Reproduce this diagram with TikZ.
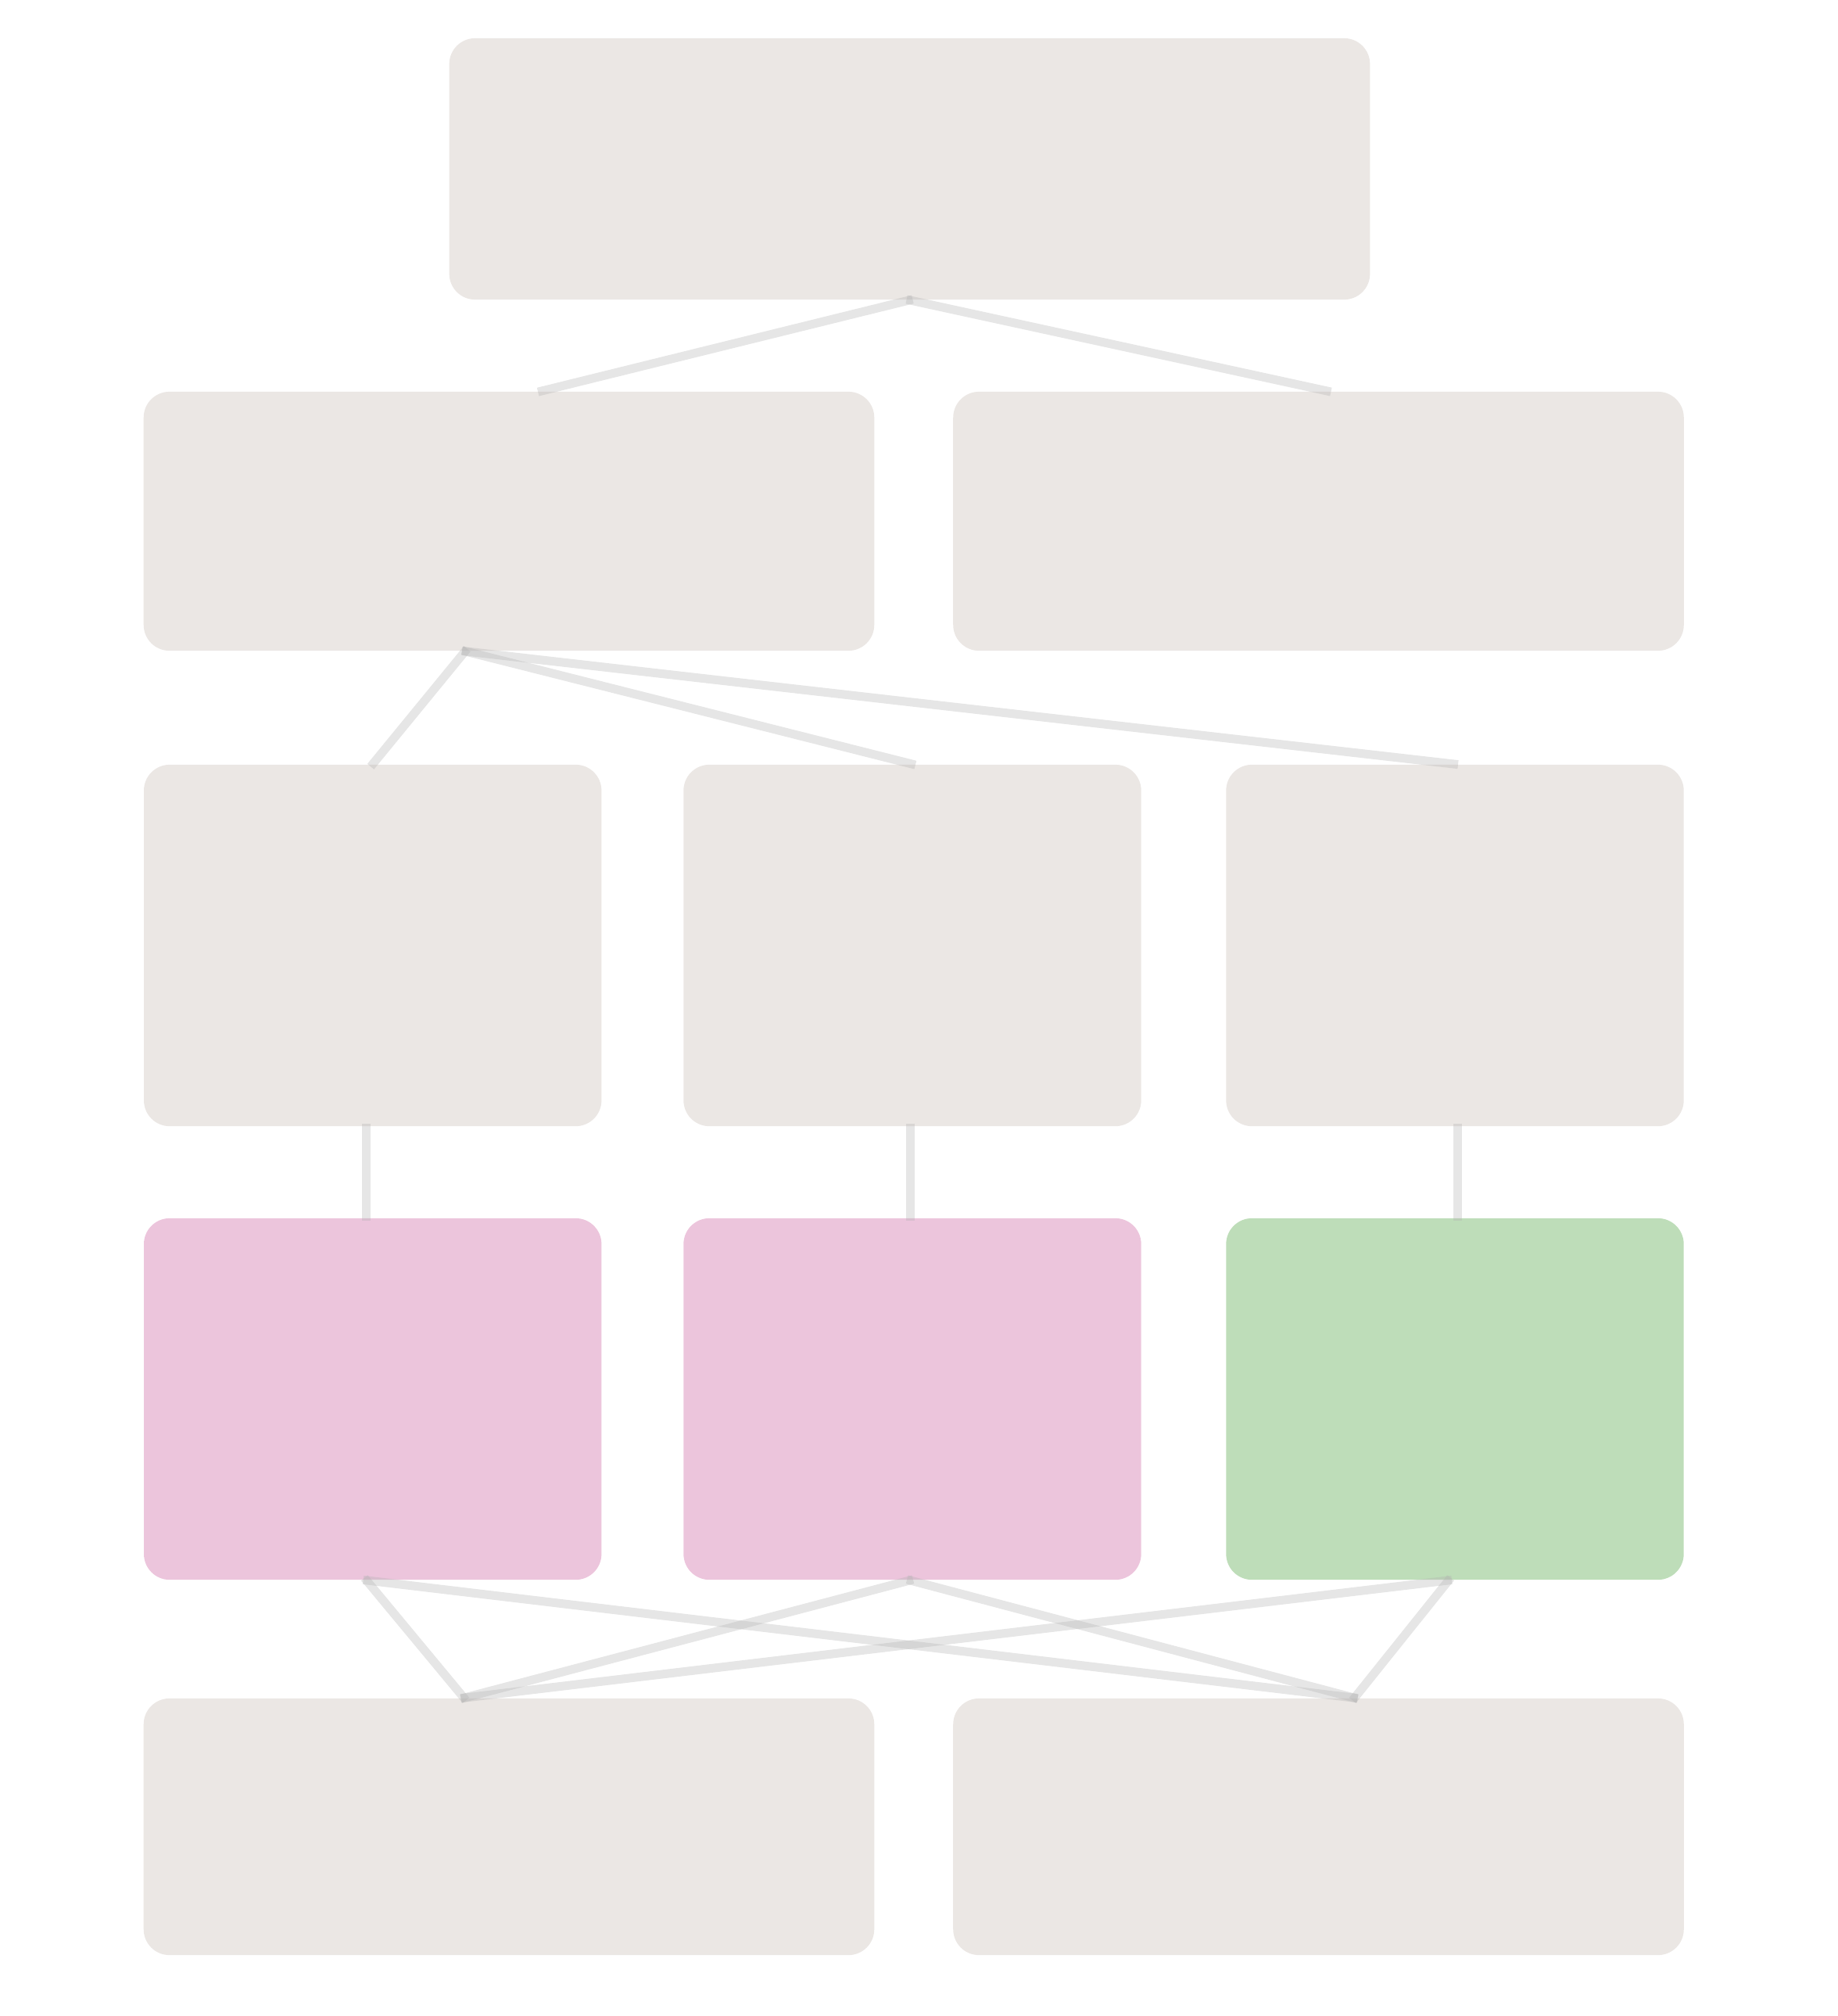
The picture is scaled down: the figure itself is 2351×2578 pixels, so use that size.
\documentclass[tikz,border=0pt]{standalone}
\usepackage{xcolor}
\usepackage{tikz}
\usetikzlibrary{positioning, calc}

\definecolor{boxgray}{HTML}{EBE7E4}
\definecolor{boxpink}{HTML}{ECC5DC}
\definecolor{boxgreen}{HTML}{BEDDB9}

\begin{document}
\begin{tikzpicture}[
    x=0.01cm, y=-0.01cm,
    box/.style={rectangle, rounded corners=0.33cm, draw=none, fill=boxgray, inner sep=0pt},
    wide/.style={box, minimum width=9.34cm, minimum height=3.31cm},
    tall/.style={box, minimum width=5.85cm, minimum height=4.62cm},
    link/.style={line width=0.11cm, draw=black!30, draw opacity=0.33, shorten <=-0.04cm, shorten >=-0.04cm},
  ]
    \useasboundingbox (0,0) rectangle (2351,2578);
    % top
    \node[box, minimum width=11.77cm, minimum height=3.34cm] (root) at (1163.5,216) {};
    % second row
    \node[wide] (midl) at (651,666.5) {};
    \node[wide] (midr) at (1686.5,666.5) {};
    % third row
    \node[tall] (catl) at (476.7,1209) {};
    \node[tall] (catm) at (1167,1209) {};
    \node[tall] (catr) at (1861,1209) {};
    % fourth row
    \node[tall, fill=boxpink] (resl) at (476.7,1789) {};
    \node[tall, fill=boxpink] (resm) at (1167,1789) {};
    \node[tall, fill=boxgreen] (resr) at (1861,1789) {};
    % bottom
    \node[wide, minimum height=3.28cm] (outl) at (651,2336) {};
    \node[wide, minimum height=3.28cm] (outr) at (1686.5,2336) {};

    \draw[link] (root.south) -- ([xshift=0.41cm]midl.north);
    \draw[link] (root.south) -- ([xshift=0.12cm]midr.north);
    \foreach \c in {catl, catm, catr}
      \draw[link] ([xshift=-0.56cm]midl.south) -- (\c.north);
    \draw[link] ([xshift=-0.08cm]catl.south) -- ([xshift=-0.08cm]resl.north);
    \draw[link] ([xshift=-0.03cm]catm.south) -- ([xshift=-0.03cm]resm.north);
    \draw[link] ([xshift=0.03cm]catr.south) -- ([xshift=0.03cm]resr.north);
    \foreach \r/\dx in {resl/-0.08cm, resm/-0.03cm, resr/-0.08cm} {
      \draw[link] ([xshift=\dx]\r.south) -- ([xshift=-0.575cm]outl.north);
      \draw[link] ([xshift=\dx]\r.south) -- ([xshift=0.46cm]outr.north);
    }
  \end{tikzpicture}
\end{document}
